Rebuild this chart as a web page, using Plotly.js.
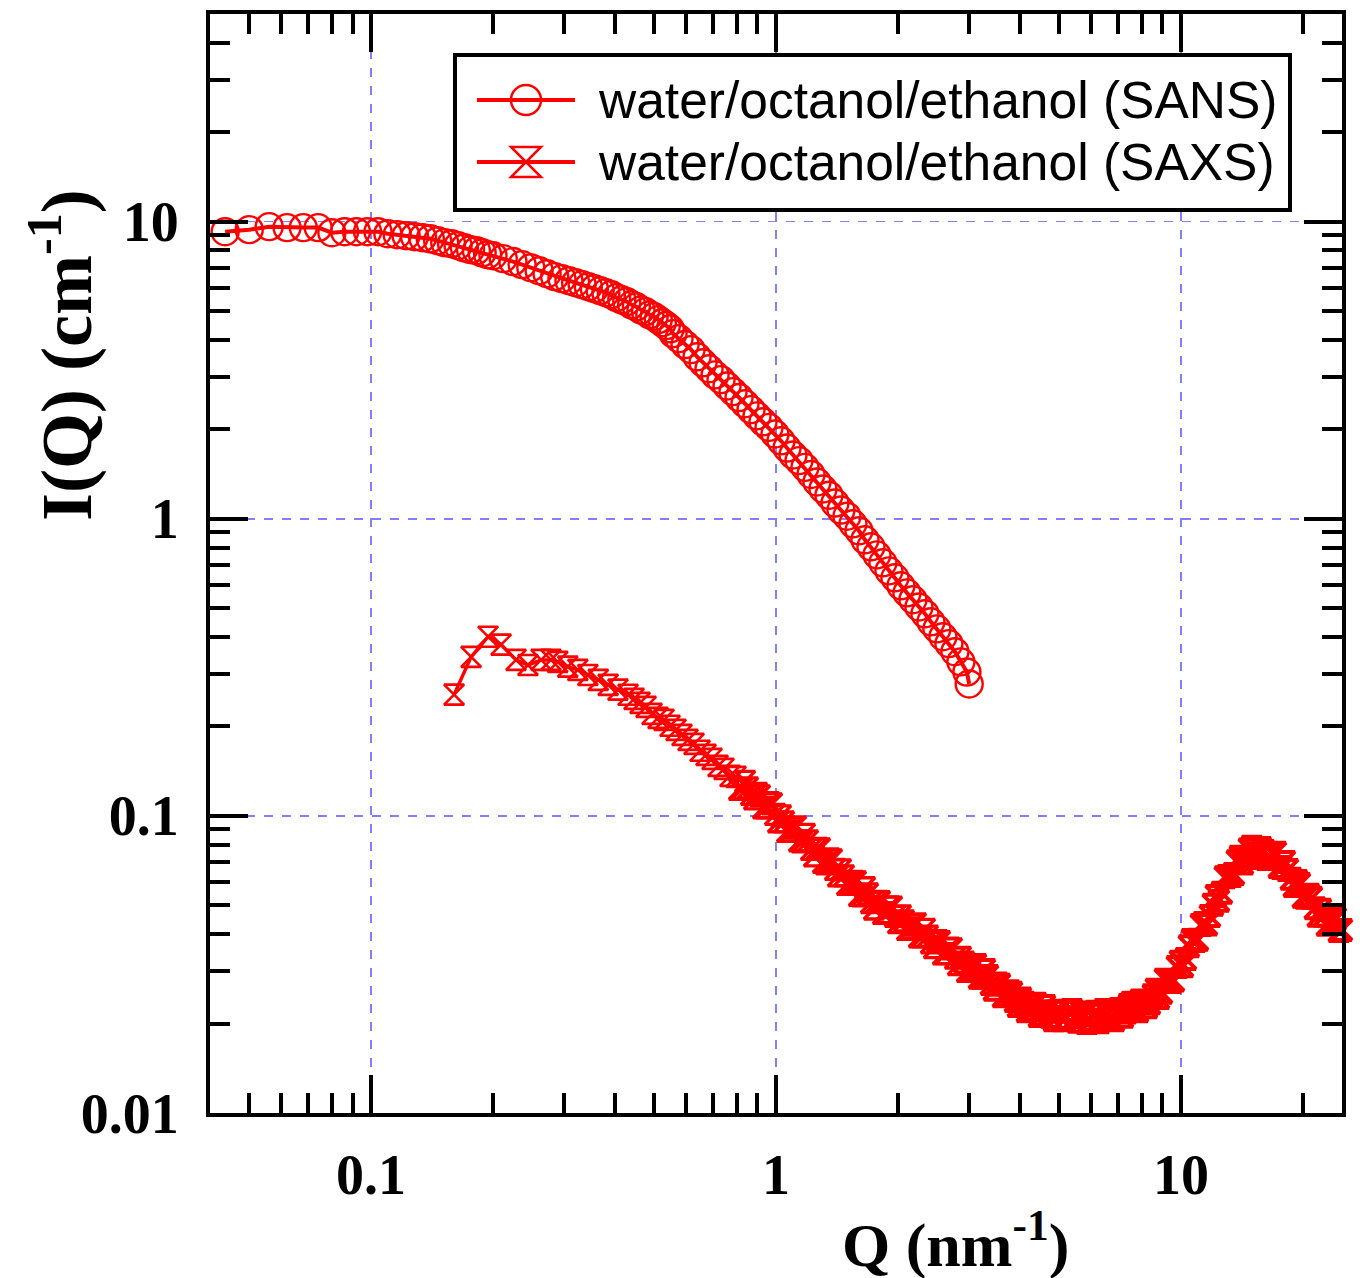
<!DOCTYPE html>
<html><head><meta charset="utf-8">
<script src="https://cdn.plot.ly/plotly-3.0.1.min.js"></script>
<style>html,body{margin:0;padding:0;background:#fff}</style>
</head><body>
<div id="chart" style="width:1360px;height:1278px"></div>
<script>
// ---- data ----
const seriesNames = ['water/octanol/ethanol (SANS)', 'water/octanol/ethanol (SAXS)'];

const sansQ = [0.0436,0.050,0.056,0.062,0.068,0.074,0.080,0.086,0.092,0.098,0.104,0.110,0.116,0.122,0.128,0.134,0.140,0.146,0.152,0.158,0.164,0.170,0.176,0.182,0.188,0.194,0.200,0.212,0.224,0.236,0.248,0.260,0.272,0.284,0.296,0.308,0.320,0.332,0.344,0.356,0.368,0.380,0.392,0.404,0.416,0.428,0.440,0.452,0.464,0.476,0.488,0.500,0.512,0.524,0.536,0.548,
0.5568,0.5761,0.5962,0.6169,0.6383,0.6604,0.6833,0.7071,0.7315,0.7569,0.7832,0.8103,0.8384,0.8675,0.8976,0.9288,0.9610,0.9943,1.0288,1.0645,1.1015,1.1397,1.1792,1.2201,1.2624,1.3062,1.3515,1.3984,1.4469,1.4972,1.5491,1.6028,1.6584,1.7160,1.7755,1.8371,1.9008,1.9668,2.0350,2.1056,2.1786,2.2543,2.3324,2.4134,2.4971,2.5837,2.6733,2.7661,2.8621,2.9613,3.000];
const sansI = [9.25,9.40,9.62,9.55,9.55,9.55,9.18,9.25,9.25,9.25,9.25,9.11,9.04,8.97,8.90,8.83,8.76,8.63,8.50,8.43,8.30,8.17,8.05,7.99,7.86,7.74,7.68,7.51,7.34,7.17,7.00,6.84,6.68,6.53,6.43,6.33,6.23,6.14,6.04,5.95,5.86,5.77,5.68,5.55,5.46,5.38,5.25,5.17,5.05,4.98,4.86,4.79,4.68,4.57,4.47,4.36,
4.20,4.04,3.86,3.71,3.51,3.35,3.20,3.05,2.94,2.80,2.68,2.56,2.44,2.33,2.22,2.12,2.03,1.93,1.83,1.73,1.64,1.57,1.49,1.41,1.33,1.26,1.20,1.13,1.07,1.02,0.962,0.911,0.850,0.805,0.756,0.711,0.668,0.633,0.595,0.563,0.534,0.505,0.479,0.450,0.426,0.401,0.380,0.357,0.330,0.305,0.278];

const saxsQ = [0.1603,0.1766,0.1945,0.2094,0.228,0.244,0.263,0.278,0.289,0.306,0.324,0.343,0.364,0.385,0.407,
0.4311,0.4461,0.4615,0.4776,0.4941,0.5113,0.5290,0.5474,0.5664,0.5860,0.6064,0.6274,0.6492,0.6717,0.6950,0.7191,0.7441,0.7699,
0.7966,0.8103,0.8243,0.8385,0.8529,0.8676,0.8825,0.8977,0.9131,0.9288,0.9448,0.9610,0.9775,0.9943,
1.0115,1.0289,1.0466,1.0646,1.0829,1.1015,1.1204,1.1397,1.1593,1.1792,1.1996,1.2202,1.2412,1.2625,1.2842,1.3063,1.3288,1.3517,1.3749,1.3985,
1.4226,1.4471,1.4720,1.4973,1.5231,1.5493,1.5759,1.6030,1.6306,1.6586,1.6872,1.7162,1.7457,1.7757,1.8063,1.8374,1.8690,1.9011,1.9338,1.9671,
2.0009,2.0353,2.0704,2.1060,2.1422,2.1790,2.2165,2.2546,2.2935,2.3329,2.3730,2.4138,2.4554,2.4976,2.5406,2.5843,2.6287,2.6739,2.7200,2.7668,
2.8143,2.8627,2.9120,2.9621,3.0130,3.0648,3.1176,3.1712,3.2258,3.2813,3.3377,3.3951,3.4535,3.5129,3.5734,3.6349,3.6974,3.7610,3.8257,3.8915,
3.9584,4.0265,4.0958,4.1662,4.2379,4.3108,4.3849,4.4603,4.5371,4.6151,4.6945,4.7752,4.8574,4.9409,5.0260,5.1124,5.2004,5.2898,5.3808,5.4733,
5.5675,5.6633,5.7607,5.8598,5.9606,6.0631,6.1675,6.2736,6.3815,6.4913,6.6029,6.7165,6.8320,6.9495,7.0691,7.1907,7.3144,7.4402,7.5682,7.6984,
7.8308,7.9655,8.1026,8.2420,8.3837,8.5279,8.6746,8.8238,8.9756,9.1300,9.2871,9.4468,9.6094,9.7747,9.9428,10.114,
10.288,10.465,10.645,10.828,11.014,11.203,11.396,11.592,11.792,11.995,12.201,12.411,12.624,12.841,13.062,13.287,13.516,13.748,13.985,14.226,
14.470,14.719,14.972,15.230,15.492,15.758,16.029,16.305,16.585,16.870,17.161,17.456,17.756,18.061,18.373,18.689,19.010,19.337,19.670,20.008,
20.352,20.702,21.058,21.420,21.789,22.164,22.545,22.933,23.328,23.729,24.137,24.552,24.975];
const saxsI = [0.256,0.343,0.401,0.377,0.335,0.322,0.335,0.335,0.330,0.318,0.310,0.298,0.287,0.276,0.266,
0.2556,0.2477,0.2401,0.2328,0.2205,0.2138,0.2105,0.2010,0.1948,0.1874,0.1803,0.1748,0.1656,0.1605,0.1556,0.1474,0.1440,0.1364,
0.1353,0.1229,0.1233,0.1307,0.1242,0.1181,0.1141,0.1191,0.1168,0.1064,0.1064,0.1107,0.1098,0.1012,
0.0954,0.1000,0.0954,0.0887,0.0890,0.0911,0.0918,0.0824,0.0817,0.0866,0.0824,0.0771,0.0733,0.0777,0.0775,0.0698,0.0689,0.0717,0.0711,0.0661,
0.0628,0.0658,0.0628,0.0588,0.0595,0.0602,0.0600,0.0540,0.0538,0.0573,0.0546,0.0511,0.0486,0.0515,0.0514,0.0470,0.0472,0.0494,0.0493,0.0459,
0.0437,0.0461,0.0443,0.0415,0.0420,0.0430,0.0433,0.0392,0.0392,0.0415,0.0394,0.0374,0.0360,0.0380,0.0377,0.0343,0.0344,0.0359,0.0357,0.0332,
0.0316,0.0334,0.0322,0.0300,0.0301,0.0310,0.0315,0.0285,0.0285,0.0303,0.0289,0.0272,0.0260,0.0273,0.0270,0.0247,0.0248,0.0257,0.0254,0.0238,
0.0229,0.0243,0.0235,0.0220,0.0223,0.0230,0.0233,0.0212,0.0214,0.0229,0.0220,0.0211,0.0205,0.0220,0.0221,0.0205,0.0209,0.0220,0.0222,0.0210,
0.0203,0.0218,0.0213,0.0201,0.0206,0.0214,0.0219,0.0202,0.0206,0.0222,0.0215,0.0209,0.0205,0.0221,0.0224,0.0211,0.0218,0.0231,0.0235,0.0225,
0.0220,0.0239,0.0237,0.0227,0.0234,0.0249,0.0260,0.0244,0.0254,0.0281,0.0278,0.0276,0.0279,0.0310,0.0323,0.0312,
0.0330,0.0364,0.0382,0.0379,0.0383,0.0429,0.0436,0.0431,0.0460,0.0502,0.0537,0.0518,0.0551,0.0621,0.0628,0.0628,0.0638,0.0703,0.0728,0.0692,
0.0722,0.0771,0.0787,0.0748,0.0727,0.0780,0.0762,0.0716,0.0728,0.0745,0.0751,0.0673,0.0668,0.0700,0.0658,0.0614,0.0581,0.0604,0.0590,0.0534,
0.0530,0.0543,0.0530,0.0489,0.0461,0.0483,0.0461,0.0430,0.0433,0.0445,0.0450,0.0410,0.0413];

const xTickVals = [0.1, 1, 10];
const xTickText = ['0.1', '1', '10'];
const xMinorVals = [0.05,0.06,0.07,0.08,0.09,0.2,0.3,0.4,0.5,0.6,0.7,0.8,0.9,2,3,4,5,6,7,8,9,20];
const yTickVals = [0.01, 0.1, 1, 10];
const yTickText = ['0.01', '0.1', '1', '10'];
const yMinorVals = [0.02,0.03,0.04,0.05,0.06,0.07,0.08,0.09,0.2,0.3,0.4,0.5,0.6,0.7,0.8,0.9,2,3,4,5,6,7,8,9,20,30,40];
const xTitle = 'Q (nm<sup>-1</sup>)';
const yTitle = 'I(Q) (cm<sup>-1</sup>)';

// ---- styles ----
const RED = '#ff0000';
const serif = 'Liberation Serif, Times New Roman, serif';
const sans = 'Liberation Sans, Arial, sans-serif';

// thinner marker outlines where the SAXS points are sparse, thicker where dense
const saxsOutline = saxsQ.map(q => (q < 0.8 ? 2.6 : (q < 3 ? 3.3 : 4)));

const traces = [
  {x: sansQ, y: sansI, name: seriesNames[0], type: 'scatter', mode: 'lines+markers',
   line: {color: RED, width: 4},
   marker: {symbol: 'circle-open', size: 27, color: RED, line: {color: RED, width: 2.4}},
   cliponaxis: false},
  {x: saxsQ, y: saxsI, name: seriesNames[1], type: 'scatter', mode: 'lines+markers',
   line: {color: RED, width: 3.5},
   marker: {symbol: 'hourglass-open', size: 20, color: RED, line: {color: RED, width: saxsOutline}},
   cliponaxis: false}
];

function axisBase(tv, tt, mv) {
  return {
    type: 'log', showline: true, linewidth: 4, linecolor: '#000', mirror: 'ticks',
    ticks: 'inside', ticklen: 38, tickwidth: 4, tickcolor: '#000',
    tickmode: 'array', tickvals: tv, ticktext: tt,
    tickfont: {family: serif, size: 56, weight: 'bold', color: '#000'},
    showgrid: true, gridcolor: '#7f7fff', griddash: 'dash', gridwidth: 1.5,
    zeroline: false,
    minor: {tickmode: 'array', tickvals: mv, ticks: 'inside', ticklen: 20, tickwidth: 4, tickcolor: '#000', showgrid: false}
  };
}

const W = 1360, H = 1278, L = 210, R = 18, T = 14, B = 165;
const pw = W - L - R, ph = H - T - B;
const px = v => (v - L) / pw;
const py = v => (H - B - v) / ph;

const xaxis = axisBase(xTickVals, xTickText, xMinorVals);
xaxis.range = [Math.log10(0.04), Math.log10(25)];
xaxis.ticklabelstandoff = 10;
const yaxis = axisBase(yTickVals, yTickText, yMinorVals);
yaxis.range = [Math.log10(0.01), Math.log10(50)];
yaxis.ticklabelstandoff = 16;

// custom legend (decoration)
const legRowY = [100, 162];
const shapes = [
  {type: 'rect', xref: 'paper', yref: 'paper', x0: px(455), x1: px(1290), y0: py(210), y1: py(55),
   line: {color: '#000', width: 4}, fillcolor: '#fff', layer: 'above'},
];
const annotations = [];
legRowY.forEach((ry, i) => {
  shapes.push({type: 'line', xref: 'paper', yref: 'paper', x0: px(477), x1: px(575), y0: py(ry), y1: py(ry),
    line: {color: RED, width: 4}, layer: 'above'});
  if (i === 0) {
    shapes.push({type: 'circle', xref: 'paper', yref: 'paper', xsizemode: 'pixel', ysizemode: 'pixel',
      xanchor: px(526), yanchor: py(ry), x0: -15, x1: 15, y0: -15, y1: 15,
      line: {color: RED, width: 2.5}, fillcolor: 'rgba(0,0,0,0)', layer: 'above'});
  } else {
    shapes.push({type: 'path', xref: 'paper', yref: 'paper', xsizemode: 'pixel', ysizemode: 'pixel',
      xanchor: px(526), yanchor: py(ry), path: 'M-15,15 L15,15 L-15,-15 L15,-15 Z',
      line: {color: RED, width: 2.5}, fillcolor: 'rgba(0,0,0,0)', layer: 'above'});
  }
  annotations.push({xref: 'paper', yref: 'paper', x: px(596), y: py(ry), xanchor: 'left', yanchor: 'middle',
    text: seriesNames[i], showarrow: false, font: {family: sans, size: 51.5, color: '#000'}});
});
annotations.push({xref: 'paper', yref: 'paper', x: px(955), y: py(1240), xanchor: 'center', yanchor: 'middle',
  text: xTitle, showarrow: false, font: {family: serif, size: 62, weight: 'bold', color: '#000'}});
annotations.push({xref: 'paper', yref: 'paper', x: px(61), y: py(355), xanchor: 'center', yanchor: 'middle',
  text: yTitle, textangle: -90, showarrow: false, font: {family: serif, size: 72, weight: 'bold', color: '#000'}});

const layout = {
  width: W, height: H, margin: {l: L, r: R, t: T, b: B},
  paper_bgcolor: '#fff', plot_bgcolor: '#fff', showlegend: false,
  xaxis: xaxis, yaxis: yaxis, shapes: shapes, annotations: annotations
};
Plotly.newPlot('chart', traces, layout, {displayModeBar: false, staticPlot: true});
</script>
</body></html>
